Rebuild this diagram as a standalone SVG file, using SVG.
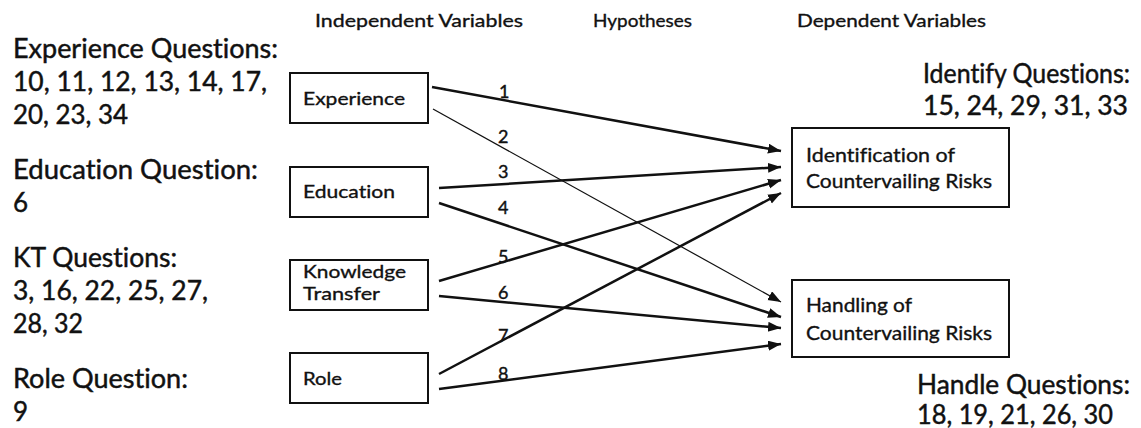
<svg xmlns="http://www.w3.org/2000/svg" width="1141" height="428" viewBox="0 0 1141 428">
<style>
text { font-family: Lato, "Liberation Sans", sans-serif; font-variant-ligatures: none; font-feature-settings: "liga" 0, "dlig" 0; fill: #111; stroke: #111; stroke-width: 0.45; }
.big { font-size: 26px; }
.hdr { font-size: 18px; stroke-width: 0.35; }
.bx { font-size: 18px; stroke-width: 0.35; }
.rbx { font-size: 20px; stroke-width: 0.35; }
.num { font-size: 18px; stroke-width: 0.4; }
.box { fill: #fff; stroke: #111; stroke-width: 2; }
.arr { stroke: #111; stroke-width: 2.5; fill: none; marker-end: url(#ah); }
.thin { stroke-width: 1.2; }
</style>
<defs>
<marker id="ah" markerUnits="userSpaceOnUse" markerWidth="14" markerHeight="12" refX="13" refY="5" orient="auto">
<path d="M0,0 L13,5 L0,10 z" fill="#111"/>
</marker>
</defs>
<rect width="1141" height="428" fill="#fff"/>

<g id="headers">
<text class="hdr" x="315" y="27" textLength="208" lengthAdjust="spacingAndGlyphs">Independent Variables</text>
<text class="hdr" x="593" y="27" textLength="99" lengthAdjust="spacingAndGlyphs">Hypotheses</text>
<text class="hdr" x="797" y="27" textLength="189" lengthAdjust="spacingAndGlyphs">Dependent Variables</text>
</g>

<g id="left-questions">
<text class="big" x="13" y="58" textLength="265" lengthAdjust="spacingAndGlyphs">Experience Questions:</text>
<text class="big" x="13" y="91" textLength="254" lengthAdjust="spacingAndGlyphs">10, 11, 12, 13, 14, 17,</text>
<text class="big" x="13" y="124" textLength="115" lengthAdjust="spacingAndGlyphs">20, 23, 34</text>
<text class="big" x="13" y="179" textLength="245" lengthAdjust="spacingAndGlyphs">Education Question:</text>
<text class="big" x="13" y="212">6</text>
<text class="big" x="13" y="267" textLength="164" lengthAdjust="spacingAndGlyphs">KT Questions:</text>
<text class="big" x="13" y="300" textLength="195" lengthAdjust="spacingAndGlyphs">3, 16, 22, 25, 27,</text>
<text class="big" x="13" y="333" textLength="70" lengthAdjust="spacingAndGlyphs">28, 32</text>
<text class="big" x="13" y="388" textLength="175" lengthAdjust="spacingAndGlyphs">Role Question:</text>
<text class="big" x="13" y="421">9</text>
</g>

<g id="right-questions">
<text class="big" x="923" y="83" textLength="207" lengthAdjust="spacingAndGlyphs">Identify Questions:</text>
<text class="big" x="923" y="115" textLength="205" lengthAdjust="spacingAndGlyphs">15, 24, 29, 31, 33</text>
<text class="big" x="917" y="394" textLength="213" lengthAdjust="spacingAndGlyphs">Handle Questions:</text>
<text class="big" x="917" y="424" textLength="196" lengthAdjust="spacingAndGlyphs">18, 19, 21, 26, 30</text>
</g>

<g id="node-experience">
<rect class="box" x="290" y="73" width="138" height="50"/>
<text class="bx" x="303" y="105" textLength="102" lengthAdjust="spacingAndGlyphs">Experience</text>
</g>
<g id="node-education">
<rect class="box" x="290" y="167" width="138" height="50"/>
<text class="bx" x="303" y="198" textLength="92" lengthAdjust="spacingAndGlyphs">Education</text>
</g>
<g id="node-knowledge-transfer">
<rect class="box" x="290" y="260" width="138" height="50"/>
<text class="bx" x="303" y="278" textLength="103" lengthAdjust="spacingAndGlyphs">Knowledge</text>
<text class="bx" x="303" y="300" textLength="77" lengthAdjust="spacingAndGlyphs">Transfer</text>
</g>
<g id="node-role">
<rect class="box" x="290" y="353" width="138" height="50"/>
<text class="bx" x="303" y="385" textLength="39" lengthAdjust="spacingAndGlyphs">Role</text>
</g>
<g id="node-identification">
<rect class="box" x="792" y="128" width="217" height="79"/>
<text class="rbx" x="806" y="162" textLength="149" lengthAdjust="spacingAndGlyphs">Identification of</text>
<text class="rbx" x="806" y="188" textLength="186" lengthAdjust="spacingAndGlyphs">Countervailing Risks</text>
</g>
<g id="node-handling">
<rect class="box" x="792" y="280" width="217" height="77"/>
<text class="rbx" x="806" y="312" textLength="106" lengthAdjust="spacingAndGlyphs">Handling of</text>
<text class="rbx" x="806" y="340" textLength="186" lengthAdjust="spacingAndGlyphs">Countervailing Risks</text>
</g>

<g id="connectors">
<line class="arr" x1="432" y1="87" x2="781" y2="151"/>
<line class="arr thin" x1="433" y1="109" x2="781" y2="302"/>
<line class="arr" x1="439" y1="188" x2="781" y2="167"/>
<line class="arr" x1="439" y1="203" x2="781" y2="317"/>
<line class="arr" x1="439" y1="281" x2="781" y2="180"/>
<line class="arr" x1="439" y1="296" x2="781" y2="328"/>
<line class="arr" x1="439" y1="374" x2="781" y2="193"/>
<line class="arr" x1="439" y1="389" x2="781" y2="344"/>
</g>

<g id="hypothesis-labels">
<text class="num" x="499" y="98">1</text>
<text class="num" x="498" y="143">2</text>
<text class="num" x="498" y="178">3</text>
<text class="num" x="498" y="214">4</text>
<text class="num" x="498" y="263">5</text>
<text class="num" x="498" y="299">6</text>
<text class="num" x="498" y="342">7</text>
<text class="num" x="498" y="380">8</text>
</g>
</svg>
